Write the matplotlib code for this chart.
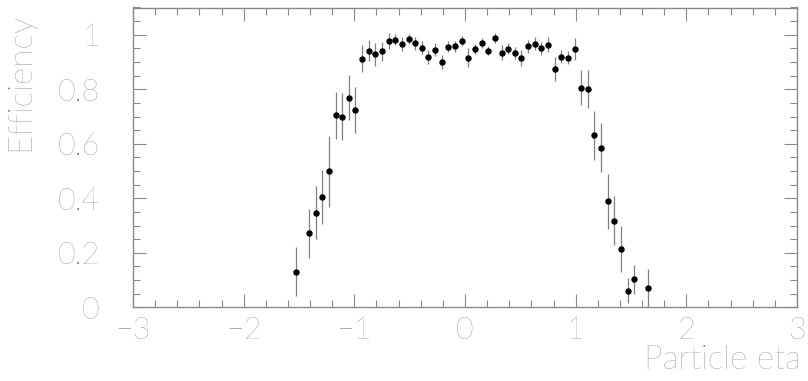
import matplotlib
matplotlib.use("Agg")
import matplotlib.pyplot as plt
import numpy as np
from matplotlib.ticker import MultipleLocator

# Bin centres (eta) and efficiencies
eta = [-1.53, -1.41, -1.35, -1.29, -1.23, -1.17, -1.11, -1.05, -0.99,
       -0.93, -0.87, -0.81, -0.75, -0.69, -0.63, -0.57, -0.51, -0.45,
       -0.39, -0.33, -0.27, -0.21, -0.15, -0.09, -0.03, 0.03, 0.09,
       0.15, 0.21, 0.27, 0.33, 0.39, 0.45, 0.51, 0.57, 0.63, 0.69,
       0.75, 0.81, 0.87, 0.93, 0.99, 1.05, 1.11, 1.17, 1.23, 1.29,
       1.35, 1.41, 1.47, 1.53, 1.65]
eff = [0.130, 0.271, 0.347, 0.405, 0.499, 0.704, 0.700, 0.769, 0.723,
       0.912, 0.942, 0.928, 0.939, 0.978, 0.982, 0.966, 0.985, 0.969,
       0.952, 0.918, 0.945, 0.900, 0.956, 0.958, 0.977, 0.916, 0.949,
       0.971, 0.942, 0.989, 0.934, 0.949, 0.933, 0.914, 0.958, 0.967,
       0.951, 0.964, 0.875, 0.920, 0.916, 0.949, 0.806, 0.800, 0.632,
       0.586, 0.389, 0.317, 0.215, 0.061, 0.103, 0.070]
err = [0.090, 0.090, 0.097, 0.100, 0.130, 0.085, 0.085, 0.083, 0.085,
       0.050, 0.040, 0.042, 0.035, 0.030, 0.020, 0.026, 0.018, 0.024,
       0.024, 0.025, 0.024, 0.027, 0.021, 0.020, 0.018, 0.034, 0.018,
       0.018, 0.018, 0.018, 0.027, 0.021, 0.021, 0.030, 0.024, 0.024,
       0.024, 0.027, 0.043, 0.024, 0.024, 0.040, 0.063, 0.070, 0.090,
       0.090, 0.100, 0.090, 0.085, 0.045, 0.053, 0.070]

x_label = "Particle eta"
y_label = "Efficiency"

txt_color = "#747474"
axis_color = "#8a8a8a"

plt.rcParams['font.family'] = ['Lato', 'DejaVu Sans']
plt.rcParams['font.weight'] = 'light'

fig = plt.figure(figsize=(8.08, 3.81), dpi=100)
ax = fig.add_axes([133/808, 1 - 307.3/381, (797-133)/808, (307.3-7.5)/381])

ax.errorbar(eta, eff, yerr=err, fmt='o', color='black', markersize=3.6,
            ecolor='#808080', elinewidth=0.9, capsize=0)

ax.set_xlim(-3, 3)
ax.set_ylim(0, 1.1)
ax.xaxis.set_major_locator(MultipleLocator(1))
ax.xaxis.set_minor_locator(MultipleLocator(0.2))
ax.yaxis.set_major_locator(MultipleLocator(0.2))
ax.yaxis.set_minor_locator(MultipleLocator(0.05))

ax.tick_params(which='both', direction='in', top=True, right=True,
               color=axis_color, labelcolor=txt_color, labelsize=22)
ax.tick_params(which='major', length=9.5, width=0.8)
ax.tick_params(which='minor', length=5, width=0.8)
ax.xaxis.set_tick_params(which='major', pad=6)
ax.yaxis.set_tick_params(which='major', pad=24)

ax.xaxis.set_major_formatter(plt.FuncFormatter(lambda v, p: f"{v:g}".replace('-', '\u2212')))
ax.yaxis.set_major_formatter(plt.FuncFormatter(lambda v, p: f"{v:g}"))
for lab in ax.get_xticklabels() + ax.get_yticklabels():
    lab.set_fontweight('light')

for s in ax.spines.values():
    s.set_color(axis_color)
    s.set_linewidth(1.0)

fig.text(801/808, 1 - 360/381, x_label, ha='right', va='center',
         fontsize=24, color=txt_color, fontweight='light')
fig.text(20/808, 1 - 13/381, y_label, ha='center', va='top', rotation=90,
         fontsize=24, color=txt_color, fontweight='light')

fig.savefig("out.png", dpi=100)
